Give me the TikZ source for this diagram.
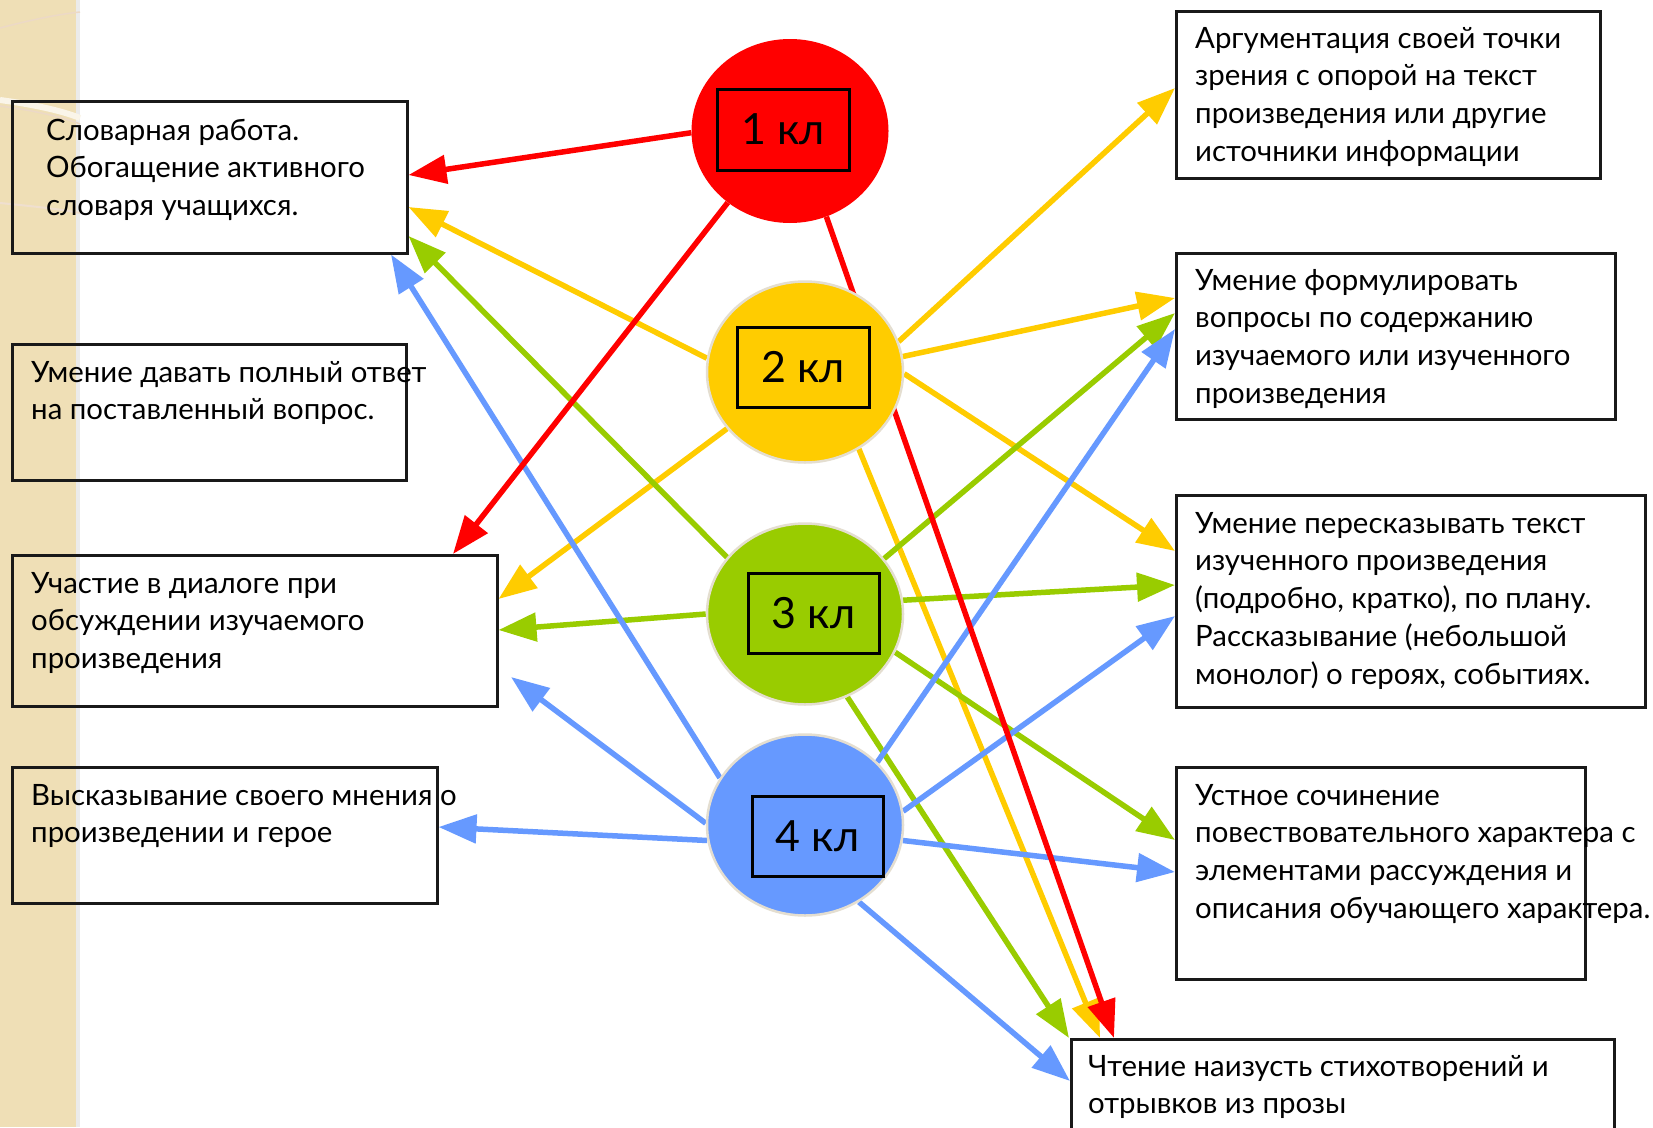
\documentclass[tikz,border=0pt]{standalone}
\usepackage{fontspec}
\setmainfont{Lato}
\usetikzlibrary{arrows.meta,shapes.geometric}
\pgfdeclarelayer{back}
\pgfdeclarelayer{mid}
\pgfsetlayers{back,mid,main}
\definecolor{cred}{HTML}{FF0000}
\definecolor{cyel}{HTML}{FFCC00}
\definecolor{cgrn}{HTML}{99CC00}
\definecolor{cblu}{HTML}{6699FF}
\definecolor{stripc}{HTML}{EFDFB6}
\definecolor{rimc}{HTML}{E4DED0}
\newcommand\mylines[1]{\begin{tabular}[t]{@{}l@{}}#1\end{tabular}}
\begin{document}
\begin{tikzpicture}[x=1pt,y=-1pt,
  box/.style={draw=black!90, line width=2.5pt, rectangle, anchor=north west, inner sep=0},
  txt/.style={anchor=base west, inner sep=0, font=\fontsize{29.4}{37.8}\selectfont},
  klass/.style={ellipse, minimum width=196pt, minimum height=181pt, inner sep=0, draw=rimc, line width=2.5pt},
  tag/.style={draw=black, line width=3pt, rectangle, minimum width=131pt, minimum height=80pt, inner sep=0, font=\fontsize{43}{50}\selectfont},
  arr/.style={line width=5.5pt, -{Triangle[length=38pt,width=28pt]}},
]
\useasboundingbox (0,0) rectangle (1653,1127);

% decorative strip
\begin{pgfonlayer}{back}
\fill[white] (0,0) rectangle (1653,1127);
\fill[stripc] (0,0) rectangle (80,1127);
\fill[black!8] (76,0) rectangle (80,1127);
\draw[brown!30, line width=1.5pt] (0,28) .. controls (30,20) and (60,14) .. (80,12);
\draw[white!70!stripc, line width=6pt] (0,100) .. controls (30,104) and (60,110) .. (80,118);
\draw[brown!30, line width=1.5pt] (0,106) .. controls (30,110) and (60,116) .. (80,124);
\draw[brown!25, line width=2pt] (0,203) .. controls (30,206) and (60,209) .. (80,213);
\end{pgfonlayer}

% class circles
\node[ellipse, minimum width=197pt, minimum height=184pt, inner sep=0, fill=cred] (c1) at (790,131) {};
\node[klass, fill=cyel] (c2) at (805,372) {};
\node[klass, fill=cgrn] (c3) at (805,614) {};
\node[klass, fill=cblu] (c4) at (805,825) {};
\node[tag, minimum width=132pt, minimum height=81pt] (k1) at (783,129.5) {1 кл};
\node[tag, minimum width=132pt] (k2) at (803,367) {2 кл};
\node[tag] (k3) at (813.5,613.5) {3 кл};
\node[tag] (k4) at (817.5,836) {4 кл};

% boxes
\node[box, minimum width=395pt, minimum height=152pt] (bA) at (11,100) {};
\node[box, minimum width=394pt, minimum height=136pt] (bB) at (11,343) {};
\node[box, minimum width=485pt, minimum height=151pt] (bC) at (11,554) {};
\node[box, minimum width=425pt, minimum height=136pt] (bD) at (11,766) {};
\node[box, minimum width=424pt, minimum height=167pt] (bE) at (1175,10) {};
\node[box, minimum width=439pt, minimum height=166pt] (bF) at (1175,252) {};
\node[box, minimum width=469pt, minimum height=212pt] (bG) at (1175,494) {};
\node[box, minimum width=409pt, minimum height=212pt] (bH) at (1175,766) {};
\node[box, minimum width=543pt, minimum height=110pt] (bI) at (1070,1038) {};
\coordinate (fB2) at (511,677);

% texts
\node[txt] (tA) at (46,140) {\mylines{Словарная работа.\\Обогащение активного\\словаря учащихся.}};
\node[txt] (tB) at (31,382) {\mylines{Умение давать полный ответ\\на поставленный вопрос.}};
\node[txt] (tC) at (31,593) {\mylines{Участие в диалоге при\\обсуждении изучаемого\\произведения}};
\node[txt] (tD) at (31,805) {\mylines{Высказывание своего мнения о\\произведении и герое}};
\node[txt] (tE) at (1195,48) {\mylines{Аргументация своей точки\\зрения с опорой на текст\\произведения или другие\\источники информации}};
\node[txt] (tF) at (1195,290) {\mylines{Умение формулировать\\вопросы по содержанию\\изучаемого или изученного\\произведения}};
\node[txt] (tG) at (1195,533) {\mylines{Умение пересказывать текст\\изученного произведения\\(подробно, кратко), по плану.\\Рассказывание (небольшой\\монолог) о героях, событиях.}};
\node[txt] (tH) at (1195,805) {\mylines{Устное сочинение\\повествовательного характера с\\элементами рассуждения и\\описания обучающего характера.}};
\node[txt] (tI) at (1088,1076) {\mylines{Чтение наизусть стихотворений и\\отрывков из прозы}};

% arrows
\begin{pgfonlayer}{mid}
\draw[arr, cyel] (c2.172) -- (bA.east |- 0,207);
\draw[arr, cyel] (c2.216) -- (bC.east |- 0,599);
\draw[arr, cyel] (c2.18) -- (bE.west |- 0,88);
\draw[arr, cyel] (c2.9) -- (bF.west |- 0,298);
\draw[arr, cyel] (c2.359) -- (bG.west |- 0,551);
\draw[arr, cyel] (c2.305) -- (bI.north -| 1100,0);

\draw[arr, cgrn] (c3.144) -- (bA.east |- 0,236);
\draw[arr, cgrn] (c3.180) -- (bC.east |- 0,630);
\draw[arr, cgrn] (c3.35) -- (bF.west |- 0,313);
\draw[arr, cgrn] (c3.8.5) -- (bG.west |- 0,585);
\draw[arr, cgrn] (c3.337) -- (bH.west |- 0,840);
\draw[arr, cgrn] (c3.297) -- (bI.north -| 1069,0);

\draw[arr, cblu] (c4.151) -- (bA.south -| 391,0);
\draw[arr, cblu] (c4.179) -- (fB2);
\draw[arr, cblu] (c4.189) -- (bD.east |- 0,827);
\draw[arr, cblu] (c4.41) -- (bF.west |- 0,329);
\draw[arr, cblu] (c4.8.5) -- (bG.west |- 0,616);
\draw[arr, cblu] (c4.351) -- (bH.west |- 0,872);
\draw[arr, cblu] (c4.305) -- (bI.west |- 0,1081);

\draw[arr, cred] (c1.181) -- (bA.east |- 0,175);
\draw[arr, cred] (c1.229) -- (bC.north -| 453,0);
\draw[arr, cred] (c1.293) -- (bI.north -| 1114,0);
\end{pgfonlayer}
\end{tikzpicture}
\end{document}
